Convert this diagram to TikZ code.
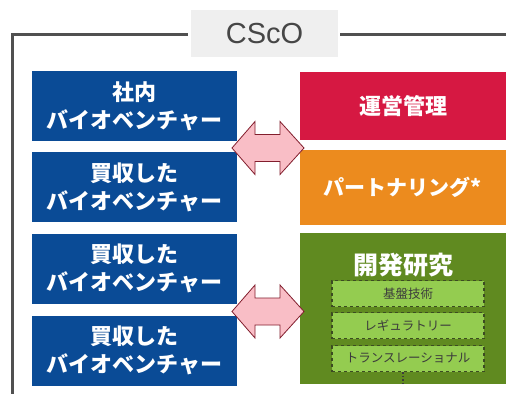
\documentclass[tikz,border=0pt]{standalone}
\usepackage{fontspec}
\setmainfont{Liberation Sans}
\newfontfamily\jp{Noto Sans CJK JP}
\definecolor{frameC}{RGB}{80,80,80}
\definecolor{labelBg}{RGB}{239,239,239}
\definecolor{labelTx}{RGB}{70,70,70}
\definecolor{blueC}{RGB}{10,75,150}
\definecolor{redC}{RGB}{214,24,66}
\definecolor{orangeC}{RGB}{236,139,30}
\definecolor{greenC}{RGB}{96,138,32}
\definecolor{lgreenC}{RGB}{148,204,80}
\definecolor{dashC}{RGB}{60,75,35}
\definecolor{innerTx}{RGB}{60,60,60}
\definecolor{arrFill}{RGB}{249,190,198}
\definecolor{arrLine}{RGB}{130,30,45}
\tikzset{
  frameline/.style={draw=frameC, line width=3pt},
  bluebox/.style={fill=blueC, text=white, minimum width=205pt, minimum height=70pt,
    inner sep=0pt, align=center, font=\jp\bfseries\fontsize{22}{28}\selectfont},
  rightbox/.style={text=white, minimum width=206pt, inner sep=0pt, align=center,
    font=\jp\bfseries\fontsize{22}{28}\selectfont},
  innerbox/.style={fill=lgreenC, draw=dashC, dashed, line width=1.4pt,
    minimum width=152pt, minimum height=26pt, inner sep=0pt, text=innerTx,
    font=\jp\fontsize{12.5}{14}\selectfont},
  dblarr/.pic={
    \draw[fill=arrFill, draw=arrLine, line width=0.8pt, line join=miter]
      (-36,0) -- (-13,-26.5) -- (-13,-13.5) -- (12,-13.5) -- (12,-26.5) -- (36,0)
      -- (12,26.5) -- (12,13.5) -- (-13,13.5) -- (-13,26.5) -- cycle;
  }
}
\begin{document}
\begin{tikzpicture}[x=1pt, y=-1pt]
\useasboundingbox[fill=white] (0,0) rectangle (506,394);
% label
\node[fill=labelBg, minimum width=147pt, minimum height=47pt, inner sep=0pt,
  text=labelTx, font=\fontsize{29}{32}\selectfont] (cso) at (264.5,33.5) {CScO};
\coordinate (tl) at (12,34);
\coordinate (bl) at (12,394);
\coordinate (tr) at (506,34);
\draw[frameline] ([xshift=-3pt]cso.west |- tl) -- (tl) -- (bl);
\draw[frameline] ([xshift=2pt]cso.east |- tr) -- (tr);
% left boxes
\node[bluebox] (b1) at (134.5,106) {社内\\バイオベンチャー};
\node[bluebox] (b2) at (134.5,187) {買収した\\バイオベンチャー};
\node[bluebox] (b3) at (134.5,268.5) {買収した\\バイオベンチャー};
\node[bluebox] (b4) at (134.5,350.5) {買収した\\バイオベンチャー};
% right boxes
\node[rightbox, fill=redC, minimum height=68pt] (r1) at (403,106) {運営管理};
\node[rightbox, fill=orangeC, minimum height=75pt, font=\jp\bfseries\fontsize{21}{26}\selectfont] (r2) at (403,187.5) {パートナリング*};
\node[rightbox, fill=greenC, minimum height=151pt] (r3) at (403,308.5) {};
\node[text=white, font=\jp\bfseries\fontsize{25}{28}\selectfont, inner sep=0pt] (rt) at (403,265) {開発研究};
\node[innerbox] (i1) at (408,293.5) {基盤技術};
\node[innerbox] (i2) at (408,325.5) {レギュラトリー};
\node[innerbox] (i3) at (408,358.5) {トランスレーショナル};
\coordinate (dotend) at (403,386);
\draw[innerTx, line width=1.5pt, dotted] ([xshift=-5pt]i3.south) -- (dotend);
% arrows
\pic at (268,148) {dblarr};
\pic at (268,311.5) {dblarr};
\end{tikzpicture}
\end{document}
